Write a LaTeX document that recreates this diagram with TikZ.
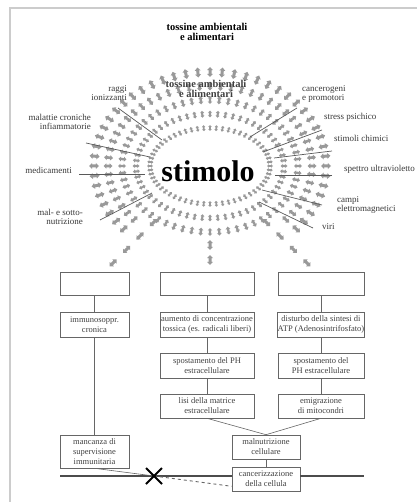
\documentclass[tikz,border=0pt]{standalone}
\usepackage{fontspec}
\setmainfont{Liberation Serif}
\usetikzlibrary{calc}
\tikzset{
  markcol/.style={fill=black!40},
  lab/.style={font=\fontsize{9}{9}\selectfont, text=black!78, inner sep=0pt},
  ptr/.style={draw=black!65, line width=0.7pt},
  bx/.style={draw=black!60, line width=0.6pt, inner sep=0pt, align=center,
    font=\fontsize{8.5}{10}\selectfont, text=black!75},
  conn/.style={draw=black!60, line width=0.6pt},
  ttl/.style={font=\fontsize{10.5}{10}\selectfont\bfseries, align=center, inner sep=0pt}
}
\newcommand{\sunmark}[4]{% x, y, angle, scale
  \fill[markcol, shift={(#1,#2)}, rotate=#3, scale=#4]
    (-5pt,0pt) -- (-1.9pt,3pt) -- (-1.9pt,1.5pt) -- (1.9pt,1.5pt) -- (1.9pt,3pt)
    -- (5pt,0pt) -- (1.9pt,-3pt) -- (1.9pt,-1.5pt) -- (-1.9pt,-1.5pt) -- (-1.9pt,-3pt) -- cycle;}
\begin{document}
\begin{tikzpicture}[x=1pt,y=-1pt]
\useasboundingbox (0,0) rectangle (417,502);
% frame
\draw[black!20, line width=2.5pt] (10,502) -- (10,8) -- (417,8);

% sun marks
\foreach \a in {0,6,...,354} {
  \pgfmathtruncatemacro\kmax{ifthenelse(and(\a>224,\a<316),2,4)}
  \foreach \k in {0,...,\kmax} {
    \pgfmathsetmacro\px{210+(60+14*\k)*cos(\a)}
    \pgfmathsetmacro\py{166-(38+14*\k)*sin(\a)}
    \pgfmathsetmacro\s{0.6+0.1*\k}
    \sunmark{\px}{\py}{\a}{\s}
  }
}
% long rays towards the boxes
\foreach \d in {80,99,118,137} {
  \sunmark{210-0.7071*\d}{166+0.7071*\d}{225}{1}
  \sunmark{210+0.7071*\d}{166+0.7071*\d}{315}{1}
}
\foreach \d in {79,94} {
  \sunmark{210}{166+\d}{270}{1}
}

% title and centre
\node[ttl] (title) at (207,32) {tossine ambientali\\e alimentari};
\node[ttl, text=black!75] (ghost) at (206,89) {tossine ambientali\\e alimentari};
\node[font=\fontsize{30}{30}\selectfont\bfseries, inner sep=0pt] (stim) at (208,171) {stimolo};

% labels left
\node[lab, align=right, anchor=east] (raggi) at (127,93.5) {raggi\\ionizzanti};
\node[lab, align=right, anchor=east] (malat) at (91,121.5) {malattie croniche\\infiammatorie};
\node[lab, align=right, anchor=east] (medic) at (72,170) {medicamenti};
\node[lab, align=right, anchor=east] (malnut) at (83,216.5) {mal- e sotto-\\nutrizione};
% labels right
\node[lab, align=left, anchor=west] (cancer) at (302,93.5) {cancerogeni\\e promotori};
\node[lab, align=left, anchor=west] (stress) at (324,117) {stress psichico};
\node[lab, align=left, anchor=west] (chim) at (334,138) {stimoli chimici};
\node[lab, align=left, anchor=west] (uv) at (344,169) {spettro ultravioletto};
\node[lab, align=left, anchor=west] (campi) at (337,204.5) {campi\\elettromagnetici};
\node[lab, align=left, anchor=west] (viri) at (322,227) {viri};

% pointer lines
\coordinate (p1a) at (118,108); \coordinate (p1b) at (162,140);
\coordinate (p2a) at (86,143);  \coordinate (p2b) at (150,157);
\coordinate (p3a) at (79,174);  \coordinate (p3b) at (145,174);
\coordinate (p4a) at (100,220); \coordinate (p4b) at (152,193);
\coordinate (p5a) at (297,108); \coordinate (p5b) at (250,137);
\coordinate (p6a) at (322,130); \coordinate (p6b) at (263,152);
\coordinate (p7a) at (332,151); \coordinate (p7b) at (274,158);
\coordinate (p8a) at (332,175); \coordinate (p8b) at (275,175);
\coordinate (p9a) at (322,205); \coordinate (p9b) at (262,190);
\coordinate (p10a) at (313,228); \coordinate (p10b) at (259,202);
\foreach \i in {1,...,10} { \draw[ptr] (p\i a) -- (p\i b); }

% boxes
\node[bx, minimum width=69pt, minimum height=23pt] (L1) at (94.5,283.5) {};
\node[bx, minimum width=94pt, minimum height=23pt] (C1) at (207,283.5) {};
\node[bx, minimum width=86pt, minimum height=23pt] (R1) at (321,283.5) {};
\node[bx, minimum width=69pt, minimum height=25pt] (L2) at (94.5,324.5) {immunosoppr.\\cronica};
\node[bx, minimum width=94pt, minimum height=25pt] (C2) at (207,324.5) {aumento di concentrazione\\tossica (es. radicali liberi)};
\node[bx, minimum width=86pt, minimum height=25pt] (R2) at (321,324.5) {disturbo della sintesi di\\ATP (Adenosintrifosfato)};
\node[bx, minimum width=94pt, minimum height=25pt] (C3) at (207,365.5) {spostamento del PH\\estracellulare};
\node[bx, minimum width=86pt, minimum height=25pt] (R3) at (321,365.5) {spostamento del\\PH estracellulare};
\node[bx, minimum width=94pt, minimum height=24pt] (C4) at (207,406) {lisi della matrice\\estracellulare};
\node[bx, minimum width=86pt, minimum height=24pt] (R4) at (321,406) {emigrazione\\di mitocondri};
\node[bx, minimum width=69pt, minimum height=33pt] (L5) at (94.5,451.5) {mancanza di\\supervisione\\immunitaria};
\node[bx, minimum width=68pt, minimum height=24pt] (M) at (266,447) {malnutrizione\\cellulare};
\node[bx, minimum width=68pt, minimum height=24pt] (K) at (266,479) {cancerizzazione\\della cellula};

% connectors
\draw[conn] (L1.south) -- (L2.north);
\draw[conn] (L2.south) -- (L5.north);
\draw[conn] (C1.south) -- (C2.north);
\draw[conn] (C2.south) -- (C3.north);
\draw[conn] (C3.south) -- (C4.north);
\draw[conn] (R1.south) -- (R2.north);
\draw[conn] (R2.south) -- (R3.north);
\draw[conn] (R3.south) -- (R4.north);
\draw[conn] (C4.south) -- (M.north);
\draw[conn] (R4.south) -- (M.north);
\draw[conn] (M.south) -- (K.north);

% bottom line and cross
\coordinate (X) at (154,476);
\coordinate (hl) at (60,476);
\coordinate (hr) at (364,476);
\draw[black!70, line width=1.3pt] (hl) -- (X) -- (X -| K.west);
\draw[black!70, line width=1.3pt] (X -| K.east) -- (hr);
\draw[conn] (L5.south) -- (X);
\draw[black!60, line width=0.9pt, dashed] (X) -- ([yshift=5pt]K.south west);
\draw[black, line width=1.8pt] ([shift={(-8pt,8pt)}]X) -- ([shift={(8pt,-8pt)}]X);
\draw[black, line width=1.8pt] ([shift={(-8pt,-8pt)}]X) -- ([shift={(8pt,8pt)}]X);
\end{tikzpicture}
\end{document}
